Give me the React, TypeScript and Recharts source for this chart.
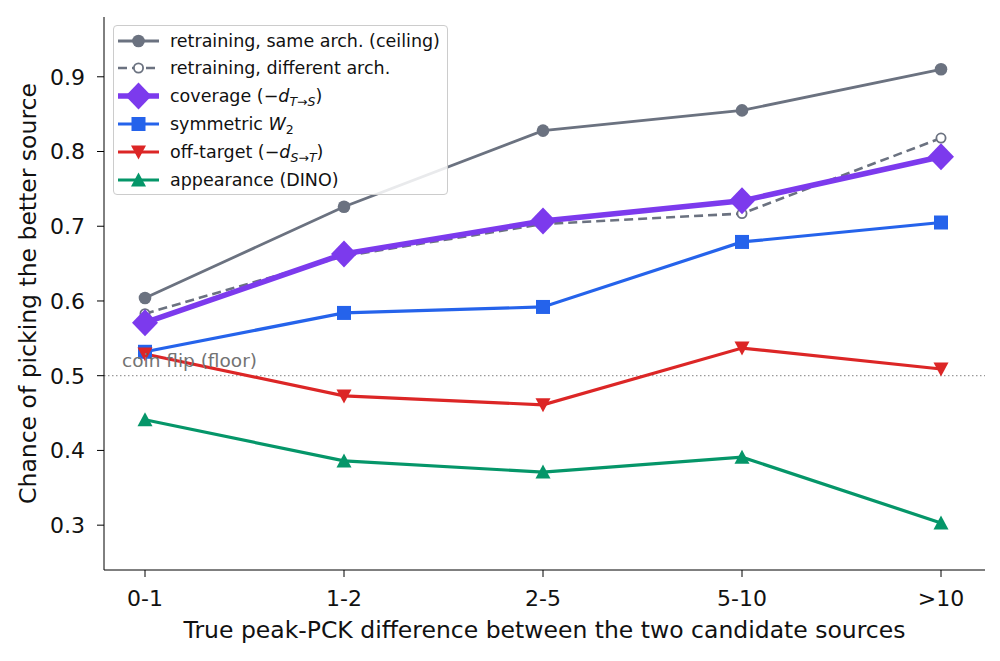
import React from "react";
import { LineChart, Line, XAxis, YAxis, ReferenceLine } from "recharts";

const bins = ["0-1", "1-2", "2-5", "5-10", ">10"];
const sameArch = [0.604, 0.726, 0.828, 0.855, 0.91];
const diffArch = [0.583, 0.66, 0.703, 0.717, 0.818];
const coverage = [0.571, 0.663, 0.707, 0.734, 0.793];
const symmetricW2 = [0.532, 0.584, 0.592, 0.679, 0.705];
const offTarget = [0.529, 0.473, 0.461, 0.537, 0.509];
const appearance = [0.441, 0.386, 0.371, 0.391, 0.303];
const yTicks = [0.3, 0.4, 0.5, 0.6, 0.7, 0.8, 0.9];

const GRAY = "#6b7280";
const PURPLE = "#7c3aed";
const BLUE = "#2563eb";
const RED = "#dc2626";
const GREEN = "#059669";
const FONT = "'DejaVu Sans', sans-serif";

const data = bins.map((bin, i) => ({
  bin,
  sameArch: sameArch[i],
  diffArch: diffArch[i],
  coverage: coverage[i],
  symmetricW2: symmetricW2[i],
  offTarget: offTarget[i],
  appearance: appearance[i],
}));

type Shape = "circle" | "open" | "diamond" | "square" | "tdown" | "tup";

function Marker({ shape, cx, cy, color }: { shape: Shape; cx: number; cy: number; color: string }) {
  switch (shape) {
    case "circle":
      return <circle cx={cx} cy={cy} r={6.3} fill={color} />;
    case "open":
      return <circle cx={cx} cy={cy} r={4.6} fill="#fff" stroke={color} strokeWidth={1.8} />;
    case "diamond":
      return <polygon points={`${cx},${cy - 13.5} ${cx + 13},${cy} ${cx},${cy + 13.5} ${cx - 13},${cy}`} fill={color} />;
    case "square":
      return <rect x={cx - 7} y={cy - 7} width={14} height={14} fill={color} />;
    case "tdown":
      return <polygon points={`${cx - 7.5},${cy - 6.5} ${cx + 7.5},${cy - 6.5} ${cx},${cy + 7.5}`} fill={color} />;
    case "tup":
      return <polygon points={`${cx - 7.5},${cy + 6.5} ${cx + 7.5},${cy + 6.5} ${cx},${cy - 7.5}`} fill={color} />;
  }
}

const dot = (shape: Shape, color: string) => (props: any) => (
  <g key={`${shape}-${props.index}`}>
    <Marker shape={shape} cx={props.cx} cy={props.cy} color={color} />
  </g>
);

const sub = { fontSize: 12.5, verticalAlign: "-4px", lineHeight: 0 } as React.CSSProperties;

const legendItems: { shape: Shape; color: string; width: number; dash?: string; label: React.ReactNode }[] = [
  { shape: "circle", color: GRAY, width: 2.8, label: "retraining, same arch. (ceiling)" },
  { shape: "open", color: GRAY, width: 2.6, dash: "9 5", label: "retraining, different arch." },
  {
    shape: "diamond",
    color: PURPLE,
    width: 5.5,
    label: (
      <>
        coverage (−<i>d</i>
        <span style={sub}>
          <i>T</i>→<i>S</i>
        </span>
        )
      </>
    ),
  },
  {
    shape: "square",
    color: BLUE,
    width: 3.2,
    label: (
      <>
        symmetric <i>W</i>
        <span style={sub}>2</span>
      </>
    ),
  },
  {
    shape: "tdown",
    color: RED,
    width: 3.2,
    label: (
      <>
        off-target (−<i>d</i>
        <span style={sub}>
          <i>S</i>→<i>T</i>
        </span>
        )
      </>
    ),
  },
  { shape: "tup", color: GREEN, width: 3.2, label: "appearance (DINO)" },
];

function LegendBox() {
  return (
    <div
      style={{
        position: "absolute",
        left: 113,
        top: 25,
        width: 333,
        height: 168,
        background: "rgba(255,255,255,0.85)",
        border: "1px solid #cccccc",
        borderRadius: 4,
        fontFamily: FONT,
        fontSize: 17.5,
        color: "#111",
      }}
    >
      {legendItems.map((it, i) => (
        <div key={i} style={{ position: "absolute", left: 0, top: 0.5 + i * 27.8, height: 28, display: "flex", alignItems: "center" }}>
          <svg width={48} height={28} style={{ marginLeft: 2, marginRight: 6, flex: "none" }}>
            <line x1={2} y1={14} x2={43} y2={14} stroke={it.color} strokeWidth={it.width} strokeDasharray={it.dash} />
            <Marker shape={it.shape} cx={22.5} cy={14} color={it.color} />
          </svg>
          <span style={{ whiteSpace: "nowrap", lineHeight: "20px" }}>{it.label}</span>
        </div>
      ))}
    </div>
  );
}

export default function App() {
  return (
    <div style={{ position: "absolute", left: 0, top: 0, width: 1000, height: 661, background: "#fff" }}>
      <LineChart width={1000} height={661} data={data} margin={{ top: 17, right: 15, bottom: 0, left: 0 }}>
        <XAxis
          dataKey="bin"
          type="category"
          padding={{ left: 41, right: 44 }}
          height={91}
          stroke="#000"
          tickSize={7}
          tickMargin={13}
          tick={{ fill: "#111", fontSize: 22, fontFamily: FONT }}
          tickLine={{ stroke: "#000" }}
          label={{ value: "True peak-PCK difference between the two candidate sources", position: "insideBottom", offset: 23, fill: "#111", fontSize: 23.5, fontFamily: FONT }}
        />
        <YAxis
          type="number"
          domain={[0.24, 0.98]}
          ticks={yTicks}
          tickFormatter={(v: number) => v.toFixed(1)}
          width={104}
          stroke="#000"
          tickSize={7}
          tickMargin={12}
          tick={{ fill: "#111", fontSize: 22, fontFamily: FONT }}
          label={{ value: "Chance of picking the better source", angle: -90, position: "insideLeft", offset: 28, fill: "#111", fontSize: 23.5, fontFamily: FONT, style: { textAnchor: "middle" } }}
        />
        <ReferenceLine
          y={0.5}
          stroke="#999"
          strokeWidth={1.2}
          strokeDasharray="1.5 2.5"
          label={{ value: "coin flip (floor)", position: "insideBottomLeft", offset: 9, dx: 9, fill: "#737373", fontSize: 18.5, fontFamily: FONT }}
        />
        <Line dataKey="sameArch" stroke={GRAY} strokeWidth={2.8} dot={dot("circle", GRAY)} activeDot={false} isAnimationActive={false} />
        <Line dataKey="diffArch" stroke={GRAY} strokeWidth={2.6} strokeDasharray="9 5" dot={dot("open", GRAY)} activeDot={false} isAnimationActive={false} />
        <Line dataKey="coverage" stroke={PURPLE} strokeWidth={5.5} dot={dot("diamond", PURPLE)} activeDot={false} isAnimationActive={false} />
        <Line dataKey="symmetricW2" stroke={BLUE} strokeWidth={3.2} dot={dot("square", BLUE)} activeDot={false} isAnimationActive={false} />
        <Line dataKey="offTarget" stroke={RED} strokeWidth={3.2} dot={dot("tdown", RED)} activeDot={false} isAnimationActive={false} />
        <Line dataKey="appearance" stroke={GREEN} strokeWidth={3.2} dot={dot("tup", GREEN)} activeDot={false} isAnimationActive={false} />
      </LineChart>
      <LegendBox />
    </div>
  );
}
